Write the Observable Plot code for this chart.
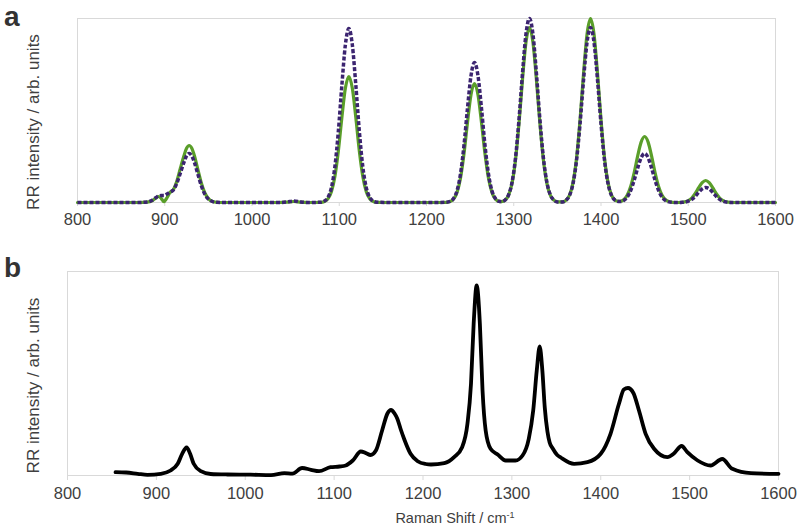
<!DOCTYPE html>
<html><head><meta charset="utf-8">
<script src="https://cdn.jsdelivr.net/npm/d3@7"></script>
<script src="https://cdn.jsdelivr.net/npm/@observablehq/plot@0.6"></script>
<style>
body{margin:0;background:#fff}
#wrap{position:relative;width:800px;height:528px;font-family:"Liberation Sans",Arial,sans-serif;background:#fff}
#wrap svg{position:absolute;left:0}
</style>
</head><body><div id="wrap"></div>
<script>
// ---- Panel a: simulated spectra ----
const xA = [800, 840, 870, 880,
  885, 890, 893, 896, 899, 902, 906, 910, 914, 918, 922, 925, 928, 931, 934, 938, 942, 946, 950, 955, 960, 965,
  980, 1010, 1030, 1040, 1048, 1056, 1065,
  1079, 1083, 1087, 1091, 1095, 1099, 1103, 1107, 1111, 1115, 1119, 1123, 1127, 1131, 1135, 1139, 1143,
  1160, 1190, 1215,
  1223, 1227, 1231, 1235, 1239, 1243, 1247, 1251, 1255, 1259, 1263, 1267, 1271, 1275, 1279, 1283,
  1286, 1290, 1294, 1298, 1302, 1306, 1310, 1314, 1318, 1322, 1326, 1330, 1334, 1338, 1342, 1346, 1350,
  1356, 1360, 1364, 1368, 1372, 1376, 1380, 1384, 1388, 1392, 1396, 1400, 1404, 1408, 1412, 1416,
  1418, 1422, 1426, 1430, 1434, 1438, 1442, 1446, 1450, 1454, 1458, 1462, 1466, 1470, 1474, 1478, 1482,
  1488, 1492, 1496, 1500, 1504, 1508, 1512, 1516, 1520, 1524, 1528, 1532, 1536, 1540, 1544, 1548, 1552,
  1570, 1600];
const greenA = [0, 0, 0, 0.4,
  1.5, 4.5, 6, 4, 0.8, 4, 10, 13, 21.7, 34.5, 46.7, 54.2, 57, 54.2, 46.7, 32.8, 19.2, 9.5, 3.9, 1, 0.2, 0,
  0, 0, 0, 0.3, 1, 0.3, 0,
  0.2, 1, 3.6, 10.7, 26, 51.8, 84.9, 114.2, 126, 114.2, 84.9, 51.8, 26, 10.7, 3.6, 1, 0.2,
  0, 0, 0,
  0.2, 0.9, 3.4, 10.1, 24.5, 48.9, 80.2, 107.8, 119, 107.8, 80.2, 48.9, 24.5, 10.1, 3.4, 1.1,
  0.9, 2.3, 7.2, 19.1, 42.4, 78.8, 122.7, 160.1, 175, 160.1, 122.7, 78.8, 42.4, 19.1, 7.2, 2.3, 0.6,
  0.6, 2.4, 7.5, 20.1, 44.5, 82.8, 129, 168.4, 184, 168.4, 129, 82.8, 44.5, 20.1, 7.5, 2.4,
  1.5, 1.2, 2.7, 7.2, 16, 29.7, 46.3, 60.4, 66, 60.4, 46.3, 29.7, 16, 7.2, 2.7, 0.9, 0.2,
  0, 0.2, 0.6, 1.9, 4.5, 9, 14.8, 19.9, 22, 19.9, 14.8, 9, 4.5, 1.9, 0.6, 0.2, 0,
  0, 0];
const purpleA = [0, 0, 0, 0.5,
  2, 5, 6.5, 7, 7, 8.2, 10.4, 12.6, 19.6, 29.7, 40.1, 46.6, 49, 46.6, 40.1, 28.2, 16.6, 8.1, 3.4, 0.9, 0.2, 0,
  0, 0, 0, 0.5, 1.5, 0.5, 0,
  0.3, 1.4, 5, 14.7, 35.8, 71.5, 117.3, 157.6, 174, 157.6, 117.3, 71.5, 35.8, 14.7, 5, 1.4, 0.3,
  0, 0, 0,
  0.3, 1.1, 4, 11.8, 28.8, 57.5, 94.4, 126.8, 140, 126.8, 94.4, 57.5, 28.8, 11.8, 4, 1.3,
  1.0, 2.4, 7.5, 20.1, 44.5, 82.8, 129, 168.4, 184, 168.4, 129, 82.8, 44.5, 20.1, 7.5, 2.4, 0.6,
  0.6, 2.3, 7.2, 19.1, 42.4, 78.8, 122.7, 160.1, 175, 160.1, 122.7, 78.8, 42.4, 19.1, 7.2, 2.3,
  1.4, 0.9, 2, 5.3, 11.9, 22.1, 34.3, 44.8, 49, 44.8, 34.3, 22.1, 11.9, 5.3, 2, 0.6, 0.2,
  0, 0.1, 0.4, 1.3, 3.1, 6.2, 10.1, 13.6, 15, 13.6, 10.1, 6.2, 3.1, 1.3, 0.4, 0.1, 0,
  0, 0];

// ---- Panel b: measured spectrum ----
const xB = [854, 866, 879, 890, 905, 916, 924, 929, 934, 938, 942, 950, 961, 980, 1006, 1029, 1044, 1053, 1064, 1074,
  1083, 1096, 1106, 1113, 1121, 1130, 1136, 1141, 1147, 1154, 1160, 1164, 1168, 1171, 1175, 1179, 1186, 1194, 1203, 1209,
  1224, 1235, 1244, 1250, 1254, 1257, 1260.4, 1264, 1267, 1270.5, 1276, 1284, 1293, 1304, 1312, 1319, 1324, 1328, 1331.3, 1334.3,
  1337, 1340, 1342.5, 1346, 1351, 1355, 1370, 1385, 1400, 1411, 1420.5, 1426, 1430.6, 1436.7, 1443, 1450.5, 1460, 1475, 1482, 1491,
  1497.4, 1509, 1523.6, 1536.7, 1548, 1569, 1600];
const blackB = [3.3, 3, 1.7, 0.7, 1.7, 5, 11.7, 21.7, 28, 21.7, 11.7, 4.3, 1.5, 1, 0.8, 0.4, 2.3, 1.8, 7.5, 5.7,
  4.3, 8.3, 9, 10, 15, 24, 22.3, 20.5, 25, 45, 62, 65.5, 62, 57, 46, 36, 21.7, 14.3, 11.5, 11,
  12.3, 18.3, 28.3, 51.7, 91.7, 151.7, 190, 151.7, 85, 45, 26.7, 21, 15, 15, 20, 36.7, 65, 105, 129, 105,
  68, 44, 33, 27, 20.5, 18, 11.7, 13.3, 21.7, 41.7, 71.7, 86, 87.5, 82.5, 65, 41.7, 26.7, 18.3, 21.7, 29.5,
  23.3, 15, 10, 16.5, 6.7, 2.3, 1.7];

const xTicks = [800, 900, 1000, 1100, 1200, 1300, 1400, 1500, 1600];
const yLabel = "RR intensity / arb. units";
const xTitle = "Raman Shift / cm";
const xTitleSup = "-1";
const panelLetters = ["a", "b"];

const GREEN = "#5a9e2a", PURPLE = "#3b2470", GRID = "#d9d9d9", TXT = "#404040";
const FONT = "'Liberation Sans', Arial, sans-serif";

const dataA = xA.map((x, i) => ({x, g: greenA[i], p: purpleA[i]}));
const dataB = xB.map((x, i) => ({x, y: blackB[i]}));

const wrap = document.getElementById("wrap");

const plotA = Plot.plot({
  width: 800, height: 250,
  marginLeft: 77, marginRight: 25, marginTop: 18, marginBottom: 48,
  style: {fontFamily: FONT, background: "transparent", overflow: "visible"},
  x: {domain: [800, 1600]},
  y: {domain: [0, 184], axis: null},
  marks: [
    Plot.frame({stroke: GRID}),
    Plot.axisX({ticks: xTicks, tickSize: 4, tickPadding: 7, stroke: GRID, fill: TXT, fontSize: 16.5, label: null, tickFormat: d => String(d)}),
    Plot.line(dataA, {x: "x", y: "g", stroke: GREEN, strokeWidth: 3.2, curve: "monotone-x"}),
    Plot.line(dataA, {x: "x", y: "p", stroke: PURPLE, strokeWidth: 3.5, strokeDasharray: "4,2", strokeLinecap: "butt", curve: "monotone-x"})
  ]
});
plotA.style.top = "0px";
wrap.appendChild(plotA);

const plotB = Plot.plot({
  width: 800, height: 278,
  marginLeft: 67, marginRight: 22, marginTop: 21, marginBottom: 53,
  style: {fontFamily: FONT, background: "transparent", overflow: "visible"},
  x: {domain: [800, 1600]},
  y: {domain: [0, 204], axis: null},
  marks: [
    Plot.frame({stroke: GRID}),
    Plot.axisX({ticks: xTicks, tickSize: 5, tickPadding: 7, stroke: GRID, fill: TXT, fontSize: 16.5, label: null, tickFormat: d => String(d)}),
    Plot.line(dataB, {x: "x", y: "y", stroke: "#000", strokeWidth: 3.8, curve: "monotone-x"})
  ]
});
plotB.style.top = "250px";
wrap.appendChild(plotB);

// overlay texts
const ov = d3.create("svg").attr("width", 800).attr("height", 528)
  .style("top", "0px").style("font-family", FONT).style("pointer-events", "none");
ov.append("text").attr("x", 4).attr("y", 26).attr("font-size", 28).attr("font-weight", "bold").attr("fill", "#333").text(panelLetters[0]);
ov.append("text").attr("x", 4).attr("y", 277).attr("font-size", 28).attr("font-weight", "bold").attr("fill", "#333").text(panelLetters[1]);
[122, 385.5].forEach(cy => {
  ov.append("text").attr("transform", `translate(33,${cy}) rotate(-90)`)
    .attr("text-anchor", "middle").attr("dominant-baseline", "central")
    .attr("font-size", 17).attr("fill", TXT).text(yLabel);
});
const t = ov.append("text").attr("x", 455).attr("y", 523).attr("text-anchor", "middle")
  .attr("font-size", 14.5).attr("fill", TXT);
t.append("tspan").text(xTitle);
t.append("tspan").attr("dy", -5).attr("font-size", 9).text(xTitleSup);
wrap.appendChild(ov.node());
</script>
</body></html>
